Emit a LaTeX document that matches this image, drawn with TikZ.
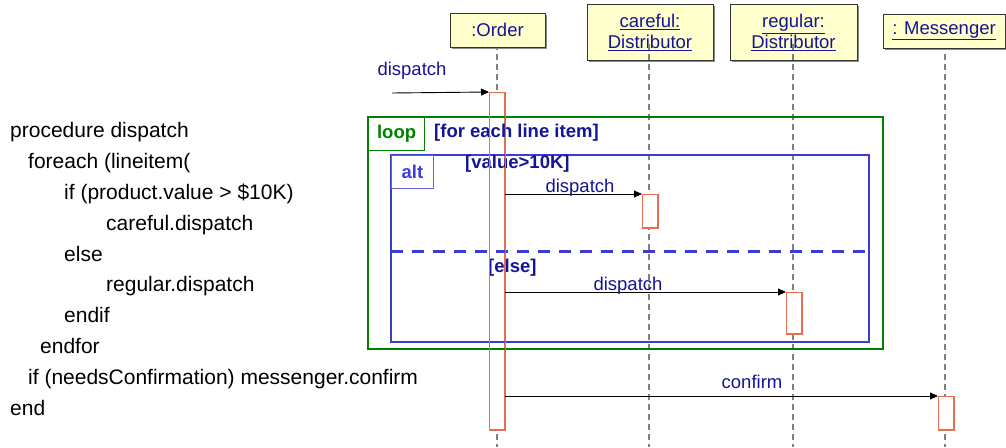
\documentclass[tikz,border=0pt]{standalone}
\usepackage{fontspec}
\setmainfont{Liberation Sans}
\usetikzlibrary{arrows.meta,shadows}
\definecolor{navy}{RGB}{20,20,150}
\definecolor{altc}{RGB}{60,60,210}
\definecolor{loopc}{RGB}{0,128,0}
\definecolor{actc}{RGB}{228,110,80}
\definecolor{lifec}{RGB}{128,128,128}
\definecolor{boxfill}{RGB}{255,255,204}
\tikzset{
  objbox/.style={draw=black!80, line width=1pt, fill=boxfill, inner sep=0pt,
    drop shadow={shadow xshift=1.5pt, shadow yshift=-1.5pt, fill=black!45, opacity=1},
    text=navy, align=center, font=\fontsize{18.5}{21}\selectfont},
  life/.style={draw=lifec, line width=1.6pt, dash pattern=on 6pt off 4pt},
  act/.style={draw=actc, line width=1pt, fill=white, minimum width=15pt, inner sep=0pt},
  actline/.style={draw=actc, line width=1pt},
  msg/.style={draw=black, line width=0.9pt, -{Triangle[length=8pt,width=7pt]}},
  lbl/.style={text=navy, font=\fontsize{18.5}{21}\selectfont, inner sep=0pt},
  guard/.style={text=navy, font=\fontsize{18.5}{21}\selectfont\bfseries, inner sep=0pt},
  code/.style={anchor=base west, inner sep=0pt, font=\fontsize{21}{24}\selectfont},
  loopframe/.style={draw=loopc, line width=2pt},
  altframe/.style={draw=altc, line width=2pt},
}
\begin{document}
\begin{tikzpicture}[x=1pt,y=-1pt]
\useasboundingbox (0,0) rectangle (1006,447);

% object boxes drawn under the lifelines
\node[objbox, minimum width=126pt, minimum height=56pt] (careful) at (650,32.5)
  {\underline{careful:}\\\underline{Distributor}};
\node[objbox, minimum width=127pt, minimum height=56pt] (regular) at (793.5,32.5)
  {\underline{regular:}\\\underline{Distributor}};

% lifeline ends
\coordinate (oTop) at (497,44);  \coordinate (oEnd) at (497,447);
\coordinate (cTop) at (649,44);  \coordinate (cEnd) at (649,447);
\coordinate (rTop) at (793,44);  \coordinate (rEnd) at (793,447);
\coordinate (mTop) at (945,44);  \coordinate (mEnd) at (945,447);
\draw[life] (oTop) -- (oEnd);
\draw[life] (cTop) -- (cEnd);
\draw[life] (rTop) -- (rEnd);
\draw[life] (mTop) -- (mEnd);

% object boxes drawn over the lifelines
\node[objbox, minimum width=95pt, minimum height=34pt] (order) at (497.5,30) {:Order};
\node[objbox, minimum width=122pt, minimum height=34pt] (messenger) at (944,31) {\underline{: Messenger}};

% activations
\node[act, minimum height=337pt] (a1) at (497,261) {};
\node[act, minimum height=33pt] (a2) at (650,211) {};
\node[act, minimum height=41pt] (a3) at (794,313) {};
\node[act, minimum height=33pt] (a4) at (946,413) {};

% combined fragments
\draw[loopframe] (368,117) rectangle (883,349);
\node[draw=loopc, line width=1.2pt, anchor=north west, minimum width=56pt, minimum height=33pt,
  inner sep=0pt, text=loopc, font=\fontsize{18.5}{21}\selectfont\bfseries] (looplbl) at (368,117) {loop};
\node[guard, anchor=west] (loopguard) at (434,133) {[for each line item]};

\draw[altframe] (391,155) rectangle (869,342);
\node[draw=altc!80, line width=1pt, anchor=north west, minimum width=42pt, minimum height=33pt,
  inner sep=0pt, text=altc, font=\fontsize{18.5}{21}\selectfont\bfseries] (altlbl) at (391,155) {alt};
\coordinate (sepL) at (391,251);
\coordinate (sepR) at (869,251);
\draw[draw=altc, line width=3pt, dash pattern=on 12pt off 9pt] (sepL) -- (sepR);
\node[guard, anchor=west] (g1) at (465,164) {[value>10K]};
\node[guard, anchor=west] (g2) at (488,268) {[else]};

% activation outlines over the fragment texts
\draw[actline] (a1.north west) rectangle (a1.south east);
\draw[actline] (a2.north west) rectangle (a2.south east);
\draw[actline] (a3.north west) rectangle (a3.south east);
\draw[actline] (a4.north west) rectangle (a4.south east);

% messages
\coordinate (start) at (392,93);
\draw[msg] (start) -- (a1.north west);
\node[lbl] (m0) at (412,71) {dispatch};

\draw[msg] (a1.east |- a2.north) -- (a2.north west);
\node[lbl] (m1) at (580,188) {dispatch};

\draw[msg] (a1.east |- a3.north) -- (a3.north west);
\node[lbl] (m2) at (628,286) {dispatch};

\draw[msg] (a1.east |- a4.north) -- (a4.north west);
\node[lbl] (m3) at (752,382) {confirm};

% pseudo code
\node[code] (c1) at (10,137) {procedure dispatch};
\node[code] (c2) at (28,168) {foreach (lineitem(};
\node[code] (c3) at (64,199) {if (product.value > \$10K)};
\node[code] (c4) at (106,230) {careful.dispatch};
\node[code] (c5) at (64,261) {else};
\node[code] (c6) at (106,291) {regular.dispatch};
\node[code] (c7) at (64,322) {endif};
\node[code] (c8) at (40,353) {endfor};
\node[code] (c9) at (28,384) {if (needsConfirmation) messenger.confirm};
\node[code] (c10) at (10,415) {end};
\end{tikzpicture}
\end{document}
